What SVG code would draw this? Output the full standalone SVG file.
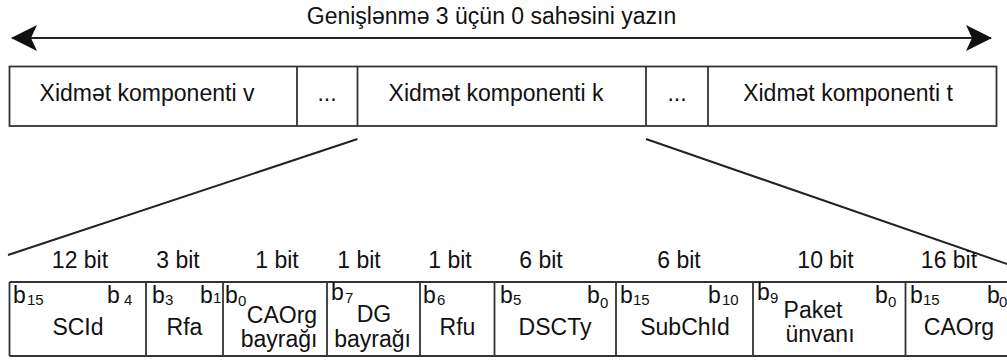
<svg xmlns="http://www.w3.org/2000/svg" width="1007" height="360" viewBox="0 0 1007 360">
<defs>
<style>
text{font-family:"Liberation Sans",Arial,sans-serif;fill:#111;}
.m{font-size:23px;}
.c{text-anchor:middle;}
.s{font-size:15px;}
.box{fill:#fff;stroke:#333;stroke-width:1.8;}
.ln{stroke:#333;stroke-width:1.8;fill:none;}
.cn{stroke:#222;stroke-width:2;fill:none;}
</style>
<marker id="ah" viewBox="0 0 26 26" refX="25" refY="13" markerWidth="26" markerHeight="26" markerUnits="userSpaceOnUse" orient="auto-start-reverse">
<path d="M0,0 L26,13 L0,26 L6,13 Z" fill="#111"/>
</marker>
</defs>
<rect width="1007" height="360" fill="#fff"/>

<g id="title">
<text class="m c" x="491.5" y="24">Genişlənmə 3 üçün 0 sahəsini yazın</text>
</g>

<g id="connectors">
<line class="cn" x1="12" y1="38" x2="991" y2="38" marker-start="url(#ah)" marker-end="url(#ah)"/>
<line class="cn" x1="357.5" y1="139" x2="8" y2="255"/>
<line class="cn" x1="646" y1="139" x2="1010" y2="265"/>
</g>

<g id="service-components">
<rect class="box" x="9.5" y="66.5" width="987" height="59.5"/>
<line class="ln" x1="297" y1="66.5" x2="297" y2="126"/>
<line class="ln" x1="357.5" y1="66.5" x2="357.5" y2="126"/>
<line class="ln" x1="646" y1="66.5" x2="646" y2="126"/>
<line class="ln" x1="708" y1="66.5" x2="708" y2="126"/>
</g>
<g id="comp-v"><text class="m c" x="147" y="101">Xidmət komponenti v</text></g>
<g id="dots-1"><text class="m c" x="327" y="101">...</text></g>
<g id="comp-k"><text class="m c" x="496" y="101">Xidmət komponenti k</text></g>
<g id="dots-2"><text class="m c" x="677" y="101">...</text></g>
<g id="comp-t"><text class="m c" x="848" y="101">Xidmət komponenti t</text></g>

<g id="fields-table">
<line class="ln" x1="9.5" y1="282" x2="1007" y2="282"/>
<line class="ln" x1="9.5" y1="356" x2="1007" y2="356"/>
<line class="ln" x1="9.5" y1="282" x2="9.5" y2="356"/>
<line class="ln" x1="146" y1="282" x2="146" y2="356"/>
<line class="ln" x1="223" y1="282" x2="223" y2="356"/>
<line class="ln" x1="327" y1="282" x2="327" y2="356"/>
<line class="ln" x1="420" y1="282" x2="420" y2="356"/>
<line class="ln" x1="494.5" y1="282" x2="494.5" y2="356"/>
<line class="ln" x1="616" y1="282" x2="616" y2="356"/>
<line class="ln" x1="753" y1="282" x2="753" y2="356"/>
<line class="ln" x1="905.5" y1="282" x2="905.5" y2="356"/>
</g>

<g id="field-scid">
<text class="m c" x="80" y="268">12 bit</text>
<text class="m" x="13" y="303">b</text><text class="s" x="27" y="305">15</text>
<text class="m" x="107" y="303">b</text><text class="s" x="124" y="305">4</text>
<text class="m c" x="78" y="335">SCId</text>
</g>
<g id="field-rfa">
<text class="m c" x="178" y="268">3 bit</text>
<text class="m" x="152" y="303">b</text><text class="s" x="165" y="305">3</text>
<text class="m" x="200" y="303">b</text><text class="s" x="213" y="303">1</text>
<text class="m c" x="184.5" y="335">Rfa</text>
</g>
<g id="field-caorg-flag">
<text class="m c" x="277" y="268">1 bit</text>
<text class="m" x="225" y="303">b</text><text class="s" x="238" y="306">0</text>
<text class="m c" x="282" y="323">CAOrg</text>
<text class="m c" x="279" y="347">bayrağı</text>
</g>
<g id="field-dg-flag">
<text class="m c" x="359" y="268">1 bit</text>
<text class="m" x="331" y="300">b</text><text class="s" x="345" y="303">7</text>
<text class="m c" x="374" y="322">DG</text>
<text class="m c" x="372.5" y="347">bayrağı</text>
</g>
<g id="field-rfu">
<text class="m c" x="450" y="268">1 bit</text>
<text class="m" x="423" y="303">b</text><text class="s" x="437" y="305">6</text>
<text class="m c" x="457.5" y="335">Rfu</text>
</g>
<g id="field-dscty">
<text class="m c" x="541" y="268">6 bit</text>
<text class="m" x="500" y="303">b</text><text class="s" x="513" y="305">5</text>
<text class="m" x="587" y="303">b</text><text class="s" x="600" y="308">0</text>
<text class="m c" x="555" y="335">DSCTy</text>
</g>
<g id="field-subchid">
<text class="m c" x="679" y="268">6 bit</text>
<text class="m" x="620" y="303">b</text><text class="s" x="633" y="305">15</text>
<text class="m" x="708" y="303">b</text><text class="s" x="722" y="305">10</text>
<text class="m c" x="685" y="335">SubChId</text>
</g>
<g id="field-packet-address">
<text class="m c" x="825.5" y="268">10 bit</text>
<text class="m" x="757" y="300">b</text><text class="s" x="770" y="303">9</text>
<text class="m" x="875" y="303">b</text><text class="s" x="888" y="307">0</text>
<text class="m c" x="813" y="318">Paket</text>
<text class="m c" x="820" y="342">ünvanı</text>
</g>
<g id="field-caorg">
<text class="m c" x="949" y="268">16 bit</text>
<text class="m" x="910" y="303">b</text><text class="s" x="923" y="305">15</text>
<text class="m" x="987" y="303">b</text><text class="s" x="999" y="307">0</text>
<text class="m c" x="959" y="335">CAOrg</text>
</g>
</svg>
